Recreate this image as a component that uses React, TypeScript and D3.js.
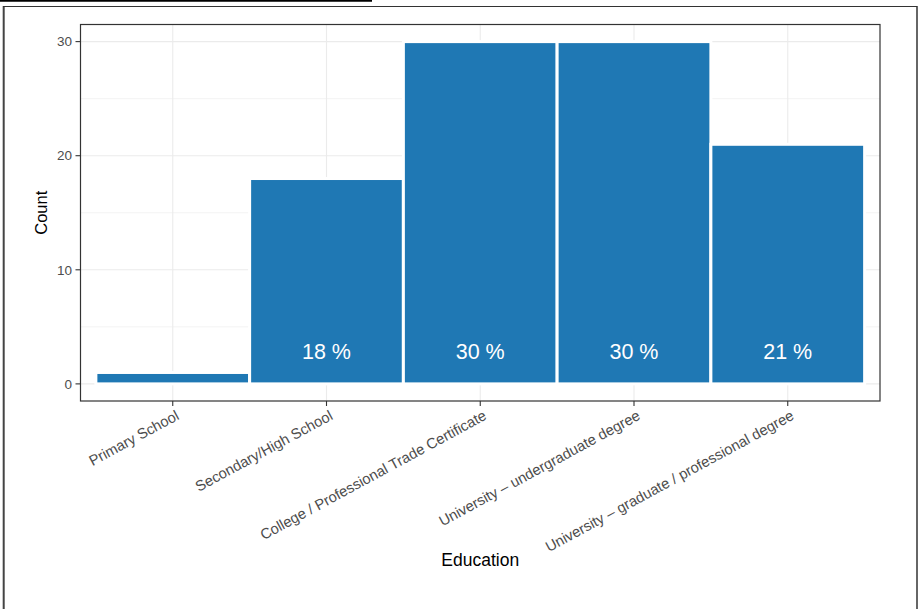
import React from "react";
import * as d3 from "d3";

const categories = [
  "Primary School",
  "Secondary/High School",
  "College / Professional Trade Certificate",
  "University – undergraduate degree",
  "University – graduate / professional degree",
];
const counts = [1, 18, 30, 30, 21];
const pctLabels = ["", "18 %", "30 %", "30 %", "21 %"];
const yTicks = [0, 10, 20, 30];
const yMinor = [5, 15, 25];

const W = 918;
const H = 609;
const panel = { left: 80.5, right: 880, top: 24.5, bottom: 401 };
const FONT = "'Liberation Sans', Arial, Helvetica, sans-serif";

export default function App() {
  const x = d3
    .scaleLinear()
    .domain([0.4, categories.length + 0.6])
    .range([panel.left, panel.right]);
  const y = d3.scaleLinear().domain([-1.5, 31.5]).range([panel.bottom, panel.top]);
  const bw = x(2) - x(1);
  const barColor = "#1F78B4";

  return (
    <svg
      width={W}
      height={H}
      style={{ position: "absolute", left: 0, top: 0, background: "#fff" }}
      fontFamily={FONT}
    >
      {/* outer decorations */}
      <line x1={0} x2={372} y1={0.8} y2={0.8} stroke="#000" strokeWidth={1.8} />
      <line x1={3.7} x2={3.7} y1={6} y2={H} stroke="#444" strokeWidth={2} />
      <line x1={3} x2={917} y1={6.5} y2={6.5} stroke="#333" strokeWidth={1} />
      <line x1={917} x2={917} y1={6} y2={H} stroke="#333" strokeWidth={1.5} />

      {/* panel background */}
      <rect
        x={panel.left}
        y={panel.top}
        width={panel.right - panel.left}
        height={panel.bottom - panel.top}
        fill="#fff"
      />
      {/* minor grid */}
      {yMinor.map((v) => (
        <line
          key={"mn" + v}
          x1={panel.left}
          x2={panel.right}
          y1={y(v)}
          y2={y(v)}
          stroke="#EBEBEB"
          strokeWidth={0.6}
        />
      ))}
      {/* major grid */}
      {yTicks.map((v) => (
        <line
          key={"mj" + v}
          x1={panel.left}
          x2={panel.right}
          y1={y(v)}
          y2={y(v)}
          stroke="#EBEBEB"
          strokeWidth={1.1}
        />
      ))}
      {categories.map((c, i) => (
        <line
          key={"vg" + i}
          x1={x(i + 1)}
          x2={x(i + 1)}
          y1={panel.top}
          y2={panel.bottom}
          stroke="#EBEBEB"
          strokeWidth={1.1}
        />
      ))}

      {/* bars */}
      {counts.map((v, i) => (
        <rect
          key={"b" + i}
          x={x(i + 1) - bw / 2}
          y={y(v)}
          width={bw}
          height={y(0) - y(v)}
          fill={barColor}
          stroke="#fff"
          strokeWidth={3}
        />
      ))}

      {/* percentage labels */}
      {pctLabels.map((t, i) =>
        t ? (
          <text
            key={"p" + i}
            x={x(i + 1)}
            y={y(3)}
            dy={9.6}
            textAnchor="middle"
            fill="#fff"
            fontSize={21.5}
          >
            {t}
          </text>
        ) : null
      )}

      {/* panel border */}
      <rect
        x={panel.left}
        y={panel.top}
        width={panel.right - panel.left}
        height={panel.bottom - panel.top}
        fill="none"
        stroke="#333"
        strokeWidth={1.2}
      />

      {/* y axis ticks */}
      {yTicks.map((v) => (
        <g key={"yt" + v}>
          <line x1={panel.left - 5} x2={panel.left} y1={y(v)} y2={y(v)} stroke="#333" strokeWidth={1.1} />
          <text
            x={panel.left - 8.5}
            y={y(v)}
            dy="0.35em"
            textAnchor="end"
            fill="#4D4D4D"
            fontSize={13.5}
          >
            {v}
          </text>
        </g>
      ))}

      {/* x axis ticks */}
      {categories.map((c, i) => (
        <g key={"xt" + i}>
          <line
            x1={x(i + 1)}
            x2={x(i + 1)}
            y1={panel.bottom}
            y2={panel.bottom + 5}
            stroke="#333"
            strokeWidth={1.1}
          />
          <text
            transform={`translate(${x(i + 1) + 2},${panel.bottom + 8}) rotate(-28.5)`}
            textAnchor="end"
            dy="0.75em"
            fill="#4D4D4D"
            fontSize={14.7}
          >
            {c}
          </text>
        </g>
      ))}

      {/* axis titles */}
      <text
        x={(panel.left + panel.right) / 2}
        y={566}
        textAnchor="middle"
        fill="#000"
        fontSize={17.5}
      >
        Education
      </text>
      <text
        transform={`translate(46.5,${(panel.top + panel.bottom) / 2}) rotate(-90)`}
        textAnchor="middle"
        fill="#000"
        fontSize={16.5}
      >
        Count
      </text>
    </svg>
  );
}
